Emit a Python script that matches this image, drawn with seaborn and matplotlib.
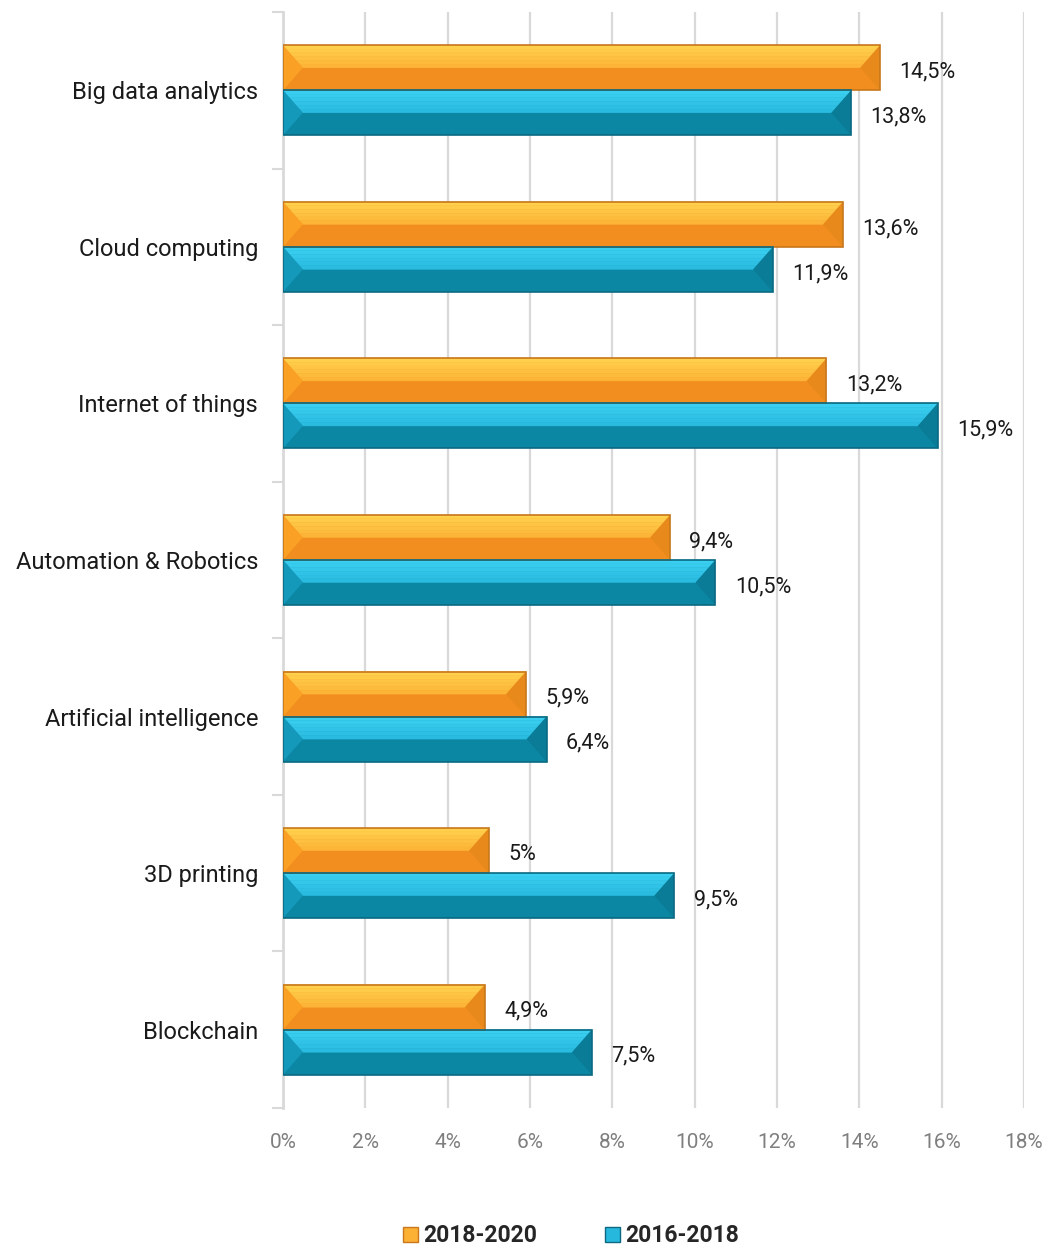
import pandas as pd
import matplotlib.pyplot as plt
import seaborn as sns
from matplotlib.patches import Polygon, Patch
from matplotlib.colors import to_rgb
from matplotlib.ticker import FuncFormatter

# ==========================================================
# DATA
# ==========================================================
categories = [
    "Big data analytics",
    "Cloud computing",
    "Internet of things",
    "Automation & Robotics",
    "Artificial intelligence",
    "3D printing",
    "Blockchain",
]
periods = ["2018-2020", "2016-2018"]
values_2018_2020 = [14.5, 13.6, 13.2, 9.4, 5.9, 5.0, 4.9]
values_2016_2018 = [13.8, 11.9, 15.9, 10.5, 6.4, 9.5, 7.5]
x_ticks = [0, 2, 4, 6, 8, 10, 12, 14, 16, 18]

df = pd.DataFrame({
    "Category": categories * 2,
    "Period": [periods[0]] * len(categories) + [periods[1]] * len(categories),
    "Share": values_2018_2020 + values_2016_2018,
})

# bevel colours: (bottom face, top face, top highlight, left face, right face, edge)
bevel = {
    "2018-2020": ("#F18E1F", "#FCB034", "#FFD04C", "#F9A025", "#E8891B", "#C8771C"),
    "2016-2018": ("#0B86A3", "#27B8DD", "#3ACFF1", "#1599BB", "#0A7C97", "#0B6A82"),
}
palette = {p: bevel[p][0] for p in periods}


def mix(c1, c2, t):
    a, b = to_rgb(c1), to_rgb(c2)
    return tuple(a[i] + (b[i] - a[i]) * t for i in range(3))


sns.set_theme(style="white")
plt.rcParams["font.family"] = ["Roboto", "DejaVu Sans"]

fig = plt.figure(figsize=(10.46, 12.52), dpi=100)
ax = fig.add_axes([0.2706, 0.115, 0.7084, 0.8754])

sns.barplot(
    data=df, y="Category", x="Share", hue="Period",
    order=categories, hue_order=periods, palette=palette,
    orient="h", width=0.575, dodge=True, saturation=1,
    linewidth=0, legend=False, ax=ax, zorder=3,
)

# ==========================================================
# BEVEL EFFECT
# ==========================================================
d = 0.48
n_strips = 6
for container, period in zip(ax.containers, periods):
    bottom_c, top_c, hi_c, left_c, right_c, edge_c = bevel[period]
    for bar in container:
        x0 = bar.get_x()
        w = bar.get_width()
        x1 = x0 + w
        yt = bar.get_y()
        h = bar.get_height()
        yb = yt + h
        ym = yt + h / 2
        dd = min(d, w / 2)
        # top face as a soft gradient, light at the top edge
        for k in range(n_strips):
            f0 = k / n_strips
            f1 = (k + 1) / n_strips
            col = mix(hi_c, top_c, f0)
            ax.add_patch(Polygon([
                (x0 + dd * f0, yt + h / 2 * f0), (x1 - dd * f0, yt + h / 2 * f0),
                (x1 - dd * f1, yt + h / 2 * f1), (x0 + dd * f1, yt + h / 2 * f1)],
                closed=True, facecolor=col, edgecolor=col, lw=0.3, zorder=4))
        ax.add_patch(Polygon([(x0, yt), (x0 + dd, ym), (x0, yb)],
                             closed=True, facecolor=left_c, lw=0, zorder=4))
        ax.add_patch(Polygon([(x1, yt), (x1 - dd, ym), (x1, yb)],
                             closed=True, facecolor=right_c, lw=0, zorder=4))
        ax.add_patch(Polygon([(x0, yt), (x1, yt), (x1, yb), (x0, yb)],
                             closed=True, facecolor="none", edgecolor=edge_c,
                             lw=1.2, zorder=5))
    labels = [f"{v:g}".replace(".", ",") + "%" for v in container.datavalues]
    texts = ax.bar_label(container, labels=labels, padding=14, fontsize=15.5,
                         color="#1a1a1a", zorder=6)
    for t in texts:
        t.set_y(t.get_position()[1] - 3)

# ==========================================================
# AXES STYLING
# ==========================================================
ax.set_xlim(0, 18)
ax.set_ylim(len(categories) - 0.5, -0.5)
ax.set_xticks(x_ticks)
ax.xaxis.set_major_formatter(FuncFormatter(lambda v, _: f"{v:g}%"))
ax.tick_params(axis="x", length=0, pad=18, labelsize=15, labelcolor="#7f7f7f")
ax.tick_params(axis="y", which="major", length=0, pad=18, labelsize=17,
               labelcolor="#1a1a1a")
ax.set_yticks([i - 0.5 for i in range(len(categories) + 1)], minor=True)
ax.tick_params(axis="y", which="minor", length=8, width=1.5, color="#d9d9d9",
               left=True)
ax.grid(axis="x", color="#d9d9d9", linewidth=1.6, zorder=0)
ax.set_axisbelow(True)
for side in ["top", "right", "bottom"]:
    ax.spines[side].set_visible(False)
ax.spines["left"].set_color("#d9d9d9")
ax.spines["left"].set_linewidth(2)
ax.set_xlabel("")
ax.set_ylabel("")

handles = [Patch(facecolor=bevel[p][1], edgecolor=bevel[p][5], label=p) for p in periods]
leg = fig.legend(handles=handles, loc="lower center", bbox_to_anchor=(0.546, 0.002),
                 ncol=2, frameon=False, handlelength=0.65, handleheight=0.65,
                 handletextpad=0.2, columnspacing=3.0, borderaxespad=0.0,
                 borderpad=0.1, prop={"size": 16.5, "weight": "bold"})

fig.savefig("out.png", dpi=100)
